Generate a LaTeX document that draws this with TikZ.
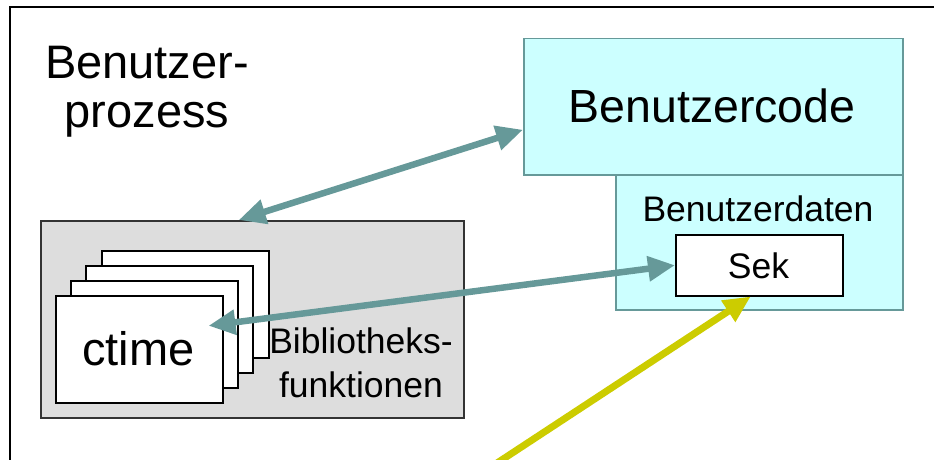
\documentclass[tikz,border=0pt]{standalone}
\usepackage{fontspec}
\setmainfont{Liberation Sans}
\usetikzlibrary{arrows.meta,calc}
\definecolor{teal1}{HTML}{669999}
\definecolor{cyan1}{HTML}{CCFFFF}
\definecolor{grey1}{HTML}{DDDDDD}
\definecolor{yel1}{HTML}{CCCC00}
\tikzset{
  box/.style={draw, rectangle, inner sep=0pt, anchor=north west},
  cyanbox/.style={box, fill=cyan1, draw=teal1, line width=1.5pt},
  page/.style={box, fill=white, draw=black, line width=1.5pt, minimum width=167pt, minimum height=107pt},
  lbl/.style={anchor=base, inner sep=0pt, text=black},
  tarrow/.style={draw=teal1, line width=6.5pt, {Triangle[length=27pt,width=24pt]}-{Triangle[length=27pt,width=24pt]}},
  yarrow/.style={draw=yel1, line width=7pt, -{Triangle[length=27pt,width=24pt]}},
}
\begin{document}
\begin{tikzpicture}[x=1pt,y=-1pt]
\useasboundingbox (0,0) rectangle (934,460);
% frame (cut at right and bottom)
\draw[line width=2pt, black] (10,470) -- (10,7) -- (940,7);
% process label
\node[lbl, font=\fontsize{47}{49}\selectfont] (bp1) at (147,78) {Benutzer-};
\node[lbl, font=\fontsize{47}{49}\selectfont] (bp2) at (147,127) {prozess};
% user data and user code
\node[cyanbox, minimum width=287pt, minimum height=135pt] (daten) at (615,174) {};
\node[cyanbox, minimum width=379pt, minimum height=136pt] (code) at (523,38) {};
\node[lbl, font=\fontsize{46.5}{50}\selectfont] (codet) at (712,122) {Benutzercode};
\node[lbl, font=\fontsize{35.5}{40}\selectfont] (datent) at (758,221) {Benutzerdaten};
\node[box, fill=white, draw=black, line width=1.5pt, minimum width=167pt, minimum height=61pt] (sek) at (675,234) {};
\node[lbl, font=\fontsize{35.5}{40}\selectfont] (sekt) at (758.5,278) {Sek};
% library box
\node[box, fill=grey1, draw=black!80, line width=1.5pt, minimum width=423pt, minimum height=197pt] (lib) at (40,220) {};
\node[page] (p4) at (101,250) {};
\node[page] (p3) at (85,265) {};
\node[page] (p2) at (70,280) {};
\node[page] (ct) at (55,295) {};
\node[lbl, font=\fontsize{47}{50}\selectfont] (ctt) at (138.5,365) {ctime};
\node[lbl, font=\fontsize{35.5}{40}\selectfont] (bib1) at (361,353) {Bibliotheks-};
\node[lbl, font=\fontsize{35.5}{40}\selectfont] (bib2) at (361,397) {funktionen};
% connectors
\draw[tarrow] ([xshift=-13.5pt]lib.north) -- ([yshift=-23pt]code.west);
\draw[tarrow] ([shift={(-15pt,23.5pt)}]ct.east) -- (sek.west);
\coordinate (ysrc) at (494,465);
\draw[yarrow] (ysrc) -- ([xshift=-8.5pt]sek.south);
\end{tikzpicture}
\end{document}
